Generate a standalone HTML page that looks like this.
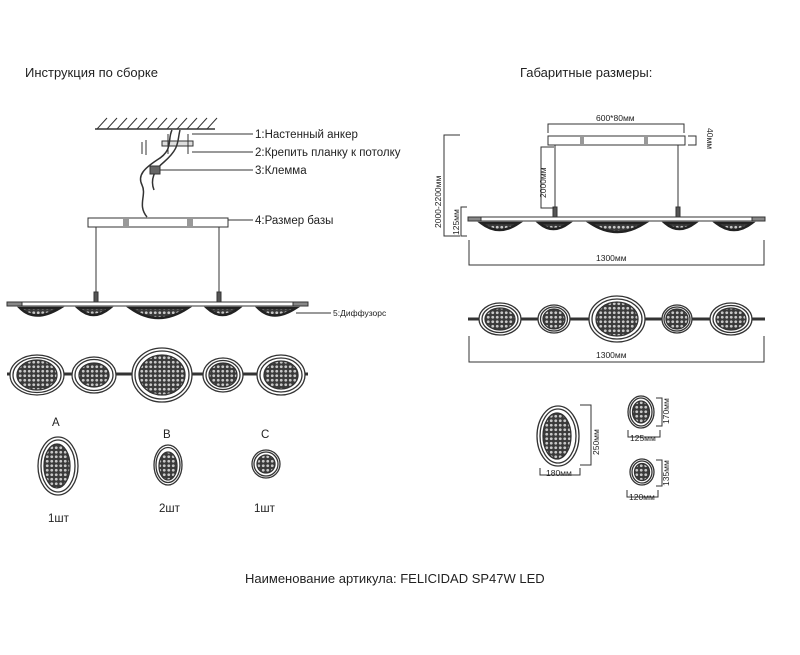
<!DOCTYPE html>
<html><head><meta charset="utf-8"><style>
html,body{margin:0;padding:0;background:#fff;}
svg{display:block;}
text{font-family:"Liberation Sans",sans-serif;fill:#222;}
</style></head><body>
<svg width="800" height="655" viewBox="0 0 800 655" xmlns="http://www.w3.org/2000/svg">
<defs>
<pattern id="d" width="4.5" height="4.5" patternUnits="userSpaceOnUse">
<rect width="4.5" height="4.5" fill="#3a3a3a"/><circle cx="2.25" cy="2.25" r="1.4" fill="#c8c8c8"/>
</pattern>
</defs>
<g stroke="#333" fill="none">
<!-- LEFT -->
<line x1="95" y1="129" x2="215" y2="129" stroke-width="1.5"/>
<path d="M97 129l10-11M107 129l10-11M117 129l10-11M127 129l10-11M137 129l10-11M147 129l10-11M157 129l10-11M167 129l10-11M177 129l10-11M187 129l10-11M197 129l10-11M207 129l10-11"/>
<rect x="162" y="141" width="31" height="5" fill="#ddd"/>
<path d="M168 134v20M188 134v20M146 140v15M142 142v12"/>
<path d="M172 130c-5 10 2 20-15 30c-12 8-20 15-15 25c5 10 -5 20 5 32M180 130c-3 12 0 18-16 32c-10 8-14 18-10 28" stroke-width="1.5"/>
<rect x="150" y="166" width="10" height="8" fill="#666"/>
<line x1="192" y1="134" x2="253" y2="134"/>
<line x1="192" y1="152" x2="253" y2="152"/>
<line x1="160" y1="170" x2="253" y2="170"/>
<rect x="88" y="218" width="140" height="9" fill="#fff"/>
<line x1="228" y1="220" x2="253" y2="220"/>
<path d="M124 219v7M126 219v7M128 219v7M188 219v7M190 219v7M192 219v7"/>
<line x1="96" y1="227" x2="96" y2="295"/><line x1="219" y1="227" x2="219" y2="295"/>
<rect x="94" y="292" width="4" height="10" fill="#555"/><rect x="217" y="292" width="4" height="10" fill="#555"/>
<rect x="7" y="302" width="301" height="4" fill="#fff"/>
<rect x="7" y="302" width="15" height="4" fill="#888"/><rect x="293" y="302" width="15" height="4" fill="#888"/>
<g stroke-width="2.5" stroke="#222">
<path d="M20 308q15 15 40 0z" fill="url(#d)"/>
<path d="M78 308q15 14 32 0z" fill="url(#d)"/>
<path d="M130 308q28 20 58 0z" fill="url(#d)"/>
<path d="M207 308q15 14 32 0z" fill="url(#d)"/>
<path d="M258 308q15 15 38 0z" fill="url(#d)"/>
</g>
<line x1="296" y1="313" x2="331" y2="313"/>
<!-- top view left -->
<line x1="7" y1="374" x2="308" y2="374" stroke-width="3"/>
<g stroke-width="1.3">
<ellipse cx="37" cy="375" rx="27" ry="20" fill="#fff"/><ellipse cx="37" cy="375" rx="24" ry="17.5"/><ellipse cx="37" cy="375" rx="20" ry="15" fill="url(#d)"/>
<ellipse cx="94" cy="375" rx="22" ry="18" fill="#fff"/><ellipse cx="94" cy="375" rx="19" ry="15.5"/><ellipse cx="94" cy="375" rx="15" ry="12" fill="url(#d)"/>
<ellipse cx="162" cy="375" rx="30" ry="27" fill="#fff"/><ellipse cx="162" cy="375" rx="27" ry="24"/><ellipse cx="162" cy="375" rx="23" ry="20" fill="url(#d)"/>
<ellipse cx="223" cy="375" rx="20" ry="17" fill="#fff"/><ellipse cx="223" cy="375" rx="17" ry="14.5"/><ellipse cx="223" cy="375" rx="14" ry="12" fill="url(#d)"/>
<ellipse cx="281" cy="375" rx="24" ry="20" fill="#fff"/><ellipse cx="281" cy="375" rx="21" ry="17"/><ellipse cx="281" cy="375" rx="17" ry="14" fill="url(#d)"/>
<ellipse cx="58" cy="466" rx="20" ry="29" fill="#fff"/><ellipse cx="58" cy="466" rx="17" ry="26"/><ellipse cx="57" cy="466" rx="13" ry="22" fill="url(#d)"/>
<ellipse cx="168" cy="465" rx="14" ry="20" fill="#fff"/><ellipse cx="168" cy="465" rx="12" ry="17.5"/><ellipse cx="168" cy="466" rx="9" ry="14" fill="url(#d)"/>
<ellipse cx="266" cy="464" rx="14" ry="14" fill="#fff"/><ellipse cx="266" cy="464" rx="12" ry="12"/><ellipse cx="266" cy="464" rx="9" ry="9" fill="url(#d)"/>
</g>
<!-- RIGHT -->
<rect x="548" y="136" width="137" height="9" fill="#fff"/>
<path d="M581 137v7M583 137v7M645 137v7M647 137v7"/>
<path d="M548 133v-9h136v9"/>
<path d="M688 136h8v9h-8"/>
<line x1="555" y1="145" x2="555" y2="210"/><line x1="678" y1="145" x2="678" y2="210"/>
<rect x="553" y="207" width="4" height="10" fill="#555"/><rect x="676" y="207" width="4" height="10" fill="#555"/>
<path d="M554 147h-13v61h13"/>
<path d="M460 135h-16v101h16"/>
<path d="M467 207h-6v29h6"/>
<rect x="468" y="217" width="297" height="4" fill="#fff"/>
<rect x="468" y="217" width="13" height="4" fill="#888"/><rect x="752" y="217" width="13" height="4" fill="#888"/>
<g stroke-width="2.5" stroke="#222">
<path d="M481 223q18 14 38 0z" fill="url(#d)"/>
<path d="M539 223q14 12 30 0z" fill="url(#d)"/>
<path d="M590 223q27 18 55 0z" fill="url(#d)"/>
<path d="M665 223q14 12 30 0z" fill="url(#d)"/>
<path d="M716 223q18 14 36 0z" fill="url(#d)"/>
</g>
<path d="M469 240v25h295v-25"/>
<line x1="468" y1="319" x2="765" y2="319" stroke-width="3"/>
<g stroke-width="1.3">
<ellipse cx="500" cy="319" rx="21" ry="16" fill="#fff"/><ellipse cx="500" cy="319" rx="18" ry="13.5"/><ellipse cx="500" cy="319" rx="15" ry="11" fill="url(#d)"/>
<ellipse cx="554" cy="319" rx="16" ry="14" fill="#fff"/><ellipse cx="554" cy="319" rx="13.5" ry="12"/><ellipse cx="554" cy="319" rx="11" ry="10" fill="url(#d)"/>
<ellipse cx="617" cy="319" rx="28" ry="23" fill="#fff"/><ellipse cx="617" cy="319" rx="25" ry="20"/><ellipse cx="617" cy="319" rx="21" ry="17" fill="url(#d)"/>
<ellipse cx="677" cy="319" rx="15" ry="14" fill="#fff"/><ellipse cx="677" cy="319" rx="13" ry="12"/><ellipse cx="677" cy="319" rx="11" ry="10" fill="url(#d)"/>
<ellipse cx="731" cy="319" rx="21" ry="16" fill="#fff"/><ellipse cx="731" cy="319" rx="18" ry="13.5"/><ellipse cx="731" cy="319" rx="15" ry="11" fill="url(#d)"/>
<ellipse cx="558" cy="436" rx="21" ry="30" fill="#fff"/><ellipse cx="558" cy="436" rx="18" ry="27"/><ellipse cx="557" cy="436" rx="14" ry="23" fill="url(#d)"/>
<ellipse cx="641" cy="412" rx="13" ry="16" fill="#fff"/><ellipse cx="641" cy="412" rx="11" ry="14"/><ellipse cx="641" cy="412" rx="8.5" ry="11" fill="url(#d)"/>
<ellipse cx="642" cy="472" rx="12" ry="13" fill="#fff"/><ellipse cx="642" cy="472" rx="10" ry="11"/><ellipse cx="642" cy="472" rx="7.5" ry="8.5" fill="url(#d)"/>
</g>
<path d="M469 336v26h295v-26"/>
<path d="M580 405h11v60h-11"/>
<path d="M540 468v7h40v-7"/>
<path d="M656 398h6v28h-6"/>
<path d="M628 430v7h32v-7"/>
<path d="M656 460h6v26h-6"/>
<path d="M627 490v7h31v-7"/>
</g>
<g font-size="13">
<text x="25" y="77">Инструкция по сборке</text>
<text x="520" y="77">Габаритные размеры:</text>
<text x="245" y="583">Наименование артикула: FELICIDAD SP47W LED</text>
</g>
<g font-size="11.5">
<text x="255" y="138">1:Настенный анкер</text>
<text x="255" y="156">2:Крепить планку к потолку</text>
<text x="255" y="174">3:Клемма</text>
<text x="255" y="224">4:Размер базы</text>
<text x="52" y="426">A</text>
<text x="163" y="438">B</text>
<text x="261" y="438">C</text>
<text x="48" y="522">1шт</text>
<text x="159" y="512">2шт</text>
<text x="254" y="512">1шт</text>
</g>
<g font-size="8.5">
<text x="333" y="316">5:Диффузорс</text>
<text x="596" y="121">600*80мм</text>
<text x="596" y="261">1300мм</text>
<text x="596" y="358">1300мм</text>
<text x="546" y="476">180мм</text>
<text x="630" y="441">125мм</text>
<text x="629" y="500">120мм</text>
<text transform="translate(707,128) rotate(90)">40мм</text>
<text transform="translate(546,198) rotate(-90)">2000мм</text>
<text transform="translate(441,228) rotate(-90)">2000-2200мм</text>
<text transform="translate(459,235) rotate(-90)">125мм</text>
<text transform="translate(599,455) rotate(-90)">250мм</text>
<text transform="translate(669,424) rotate(-90)">170мм</text>
<text transform="translate(669,486) rotate(-90)">135мм</text>
</g>
</svg>
</body></html>
